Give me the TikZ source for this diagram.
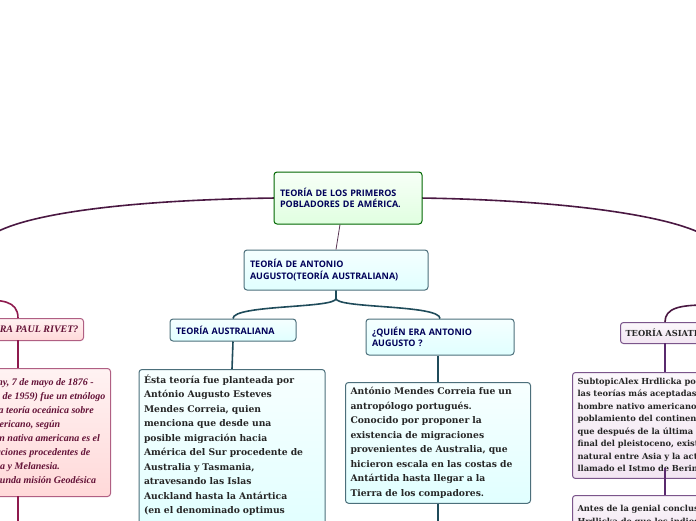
\documentclass[tikz,border=0pt]{standalone}
\usepackage{fontspec}
\setmainfont{DejaVu Serif}
\newfontfamily\titlefont{Open Sans}
\newfontfamily\handfont{Liberation Serif}
\usetikzlibrary{positioning}
\definecolor{rootline}{HTML}{4A1842}
\definecolor{tealline}{HTML}{1F4B5A}
\definecolor{pinkline}{HTML}{8E1A4E}
\definecolor{purpline}{HTML}{5A2A6E}
\tikzset{
  rootbox/.style={draw=green!40!black, line width=1pt, rounded corners=3pt,
    top color=green!3, bottom color=green!12, font=\titlefont\bfseries\fontsize{9}{11.5}\selectfont,
    text=blue!35!black, align=left, inner sep=5pt},
  bluebox/.style={draw=tealline!80, line width=1pt, rounded corners=3pt,
    top color=cyan!4, bottom color=cyan!12, font=\titlefont\bfseries\fontsize{9}{11.5}\selectfont,
    text=blue!35!black, align=left, inner sep=5pt},
  textbox/.style={draw=tealline!80, line width=1pt, rounded corners=3pt,
    top color=cyan!3, bottom color=cyan!12, font=\bfseries\fontsize{9.2}{14.5}\selectfont,
    text=black!85, align=left, inner sep=5pt},
  pinkbox/.style={draw=pinkline!70, line width=1pt, rounded corners=3pt,
    top color=red!5, bottom color=red!15, font=\handfont\itshape\bfseries\fontsize{10}{14}\selectfont,
    text=pinkline!70!black, align=left, inner sep=5pt},
  purpbox/.style={draw=purpline!80, line width=1pt, rounded corners=3pt,
    top color=violet!3, bottom color=violet!10, font=\bfseries\fontsize{8.3}{12.5}\selectfont,
    text=black!85, align=left, inner sep=5pt},
  link/.style={line width=1.6pt}
}
\begin{document}
\begin{tikzpicture}[x=1pt,y=-1pt]
\useasboundingbox (0,0) rectangle (696,520);
\clip (0,0) rectangle (696,520);
% ramas principales
\draw[link, rootline] (276,198) .. controls (120,200) and (20,215) .. (-10,236);
\draw[link, rootline] (420,198) .. controls (560,200) and (670,215) .. (706,236);
% nodo raiz
\node[rootbox, minimum width=148pt, minimum height=52pt, text width=136pt] (root) at (348,198)
  {TEORÍA DE LOS PRIMEROS\\POBLADORES DE AMÉRICA.};
% teoria australiana
\node[bluebox, minimum width=184pt, minimum height=40pt, text width=172pt] (anton) at (336,270)
  {TEORÍA DE ANTONIO\\AUGUSTO(TEORÍA AUSTRALIANA)};
\draw[rootline!70!gray, line width=0.8pt] (root.south) ++(-8,0) -- (anton.north);
\node[bluebox, minimum width=126pt, minimum height=22pt, text width=114pt] (aust) at (233,330)
  {TEORÍA AUSTRALIANA};
\node[bluebox, minimum width=148pt, minimum height=36pt, text width=136pt] (quien) at (440,337)
  {¿QUIÉN ERA ANTONIO\\AUGUSTO ?};
\draw[link, tealline] (anton.south) -- ++(0,8) .. controls +(0,10) and +(0,-14) .. (aust.north);
\draw[link, tealline] (anton.south) -- ++(0,8) .. controls +(0,10) and +(0,-14) .. (quien.north);
\node[textbox, anchor=north, minimum width=186pt, text width=176pt] (austtxt) at (232,369)
  {Ésta teoría fue planteada por\\António Augusto Esteves\\Mendes Correia, quien\\menciona que desde una\\posible migración hacia\\América del Sur procedente de\\Australia y Tasmania,\\atravesando las Islas\\Auckland hasta la Antártica\\(en el denominado optimus\\climaticus)};
\draw[link, tealline] (aust.south) -- (austtxt.north);
\node[textbox, anchor=north, minimum width=185pt, text width=175pt] (quientxt) at (438,382)
  {António Mendes Correia fue un\\antropólogo portugués.\\Conocido por proponer la\\existencia de migraciones\\provenientes de Australia, que\\hicieron escala en las costas de\\Antártida hasta llegar a la\\Tierra de los compadores.};
\draw[link, tealline] (quien.south -| quientxt.north) -- (quientxt.north);
\draw[link, tealline] (quientxt.south) -- ++(0,30);
% paul rivet
\node[pinkbox, anchor=north east, minimum height=22pt] (rivet) at (84,318)
  {¿QUIÉN ERA PAUL RIVET?};
\draw[link, pinkline] (-20,300) .. controls (0,300) and (18,300) .. (18,318);
\node[pinkbox, anchor=north east, minimum height=128pt] (rivettxt) at (111,368)
  {Paul Rivet (Wasigny, 7 de mayo de 1876 -\\París, 21 de marzo de 1959) fue un etnólogo\\francés, autor de la teoría oceánica sobre\\el poblamiento americano, según\\la cual la población nativa americana es el\\resultado de migraciones procedentes de\\Australia, Polinesia y Melanesia.\\Participó en la segunda misión Geodésica};
\draw[link, pinkline] (18,340) -- (18,368);
\draw[link, pinkline] (18,496) -- (18,530);
% teoria asiatica
\node[purpbox, anchor=north west, minimum height=21pt, font=\bfseries\fontsize{8.3}{10}\selectfont] (asia) at (620,322)
  {TEORÍA ASIATICA};
\draw[link, rootline] (706,305) .. controls (680,305) and (665,308) .. (665,322);
\node[purpbox, anchor=north west, minimum height=96pt, text width=200pt] (asiatxt) at (572,372)
  {SubtopicAlex Hrdlicka postuló una de\\las teorías más aceptadas del origen del\\hombre nativo americano y del\\poblamiento del continente, que sostiene\\que después de la última era glacial, al\\final del pleistoceno, existió un puente\\natural entre Asia y la actual Alaska,\\llamado el Istmo de Bering.};
\draw[link, purpline] (665,343) -- (665,372);
\node[purpbox, anchor=north west, minimum height=40pt, text width=200pt] (asiatxt2) at (572,495)
  {Antes de la genial conclusión de\\Hrdlicka de que los indios americanos};
\draw[link, purpline] (665,468) -- (665,495);
\end{tikzpicture}
\end{document}
